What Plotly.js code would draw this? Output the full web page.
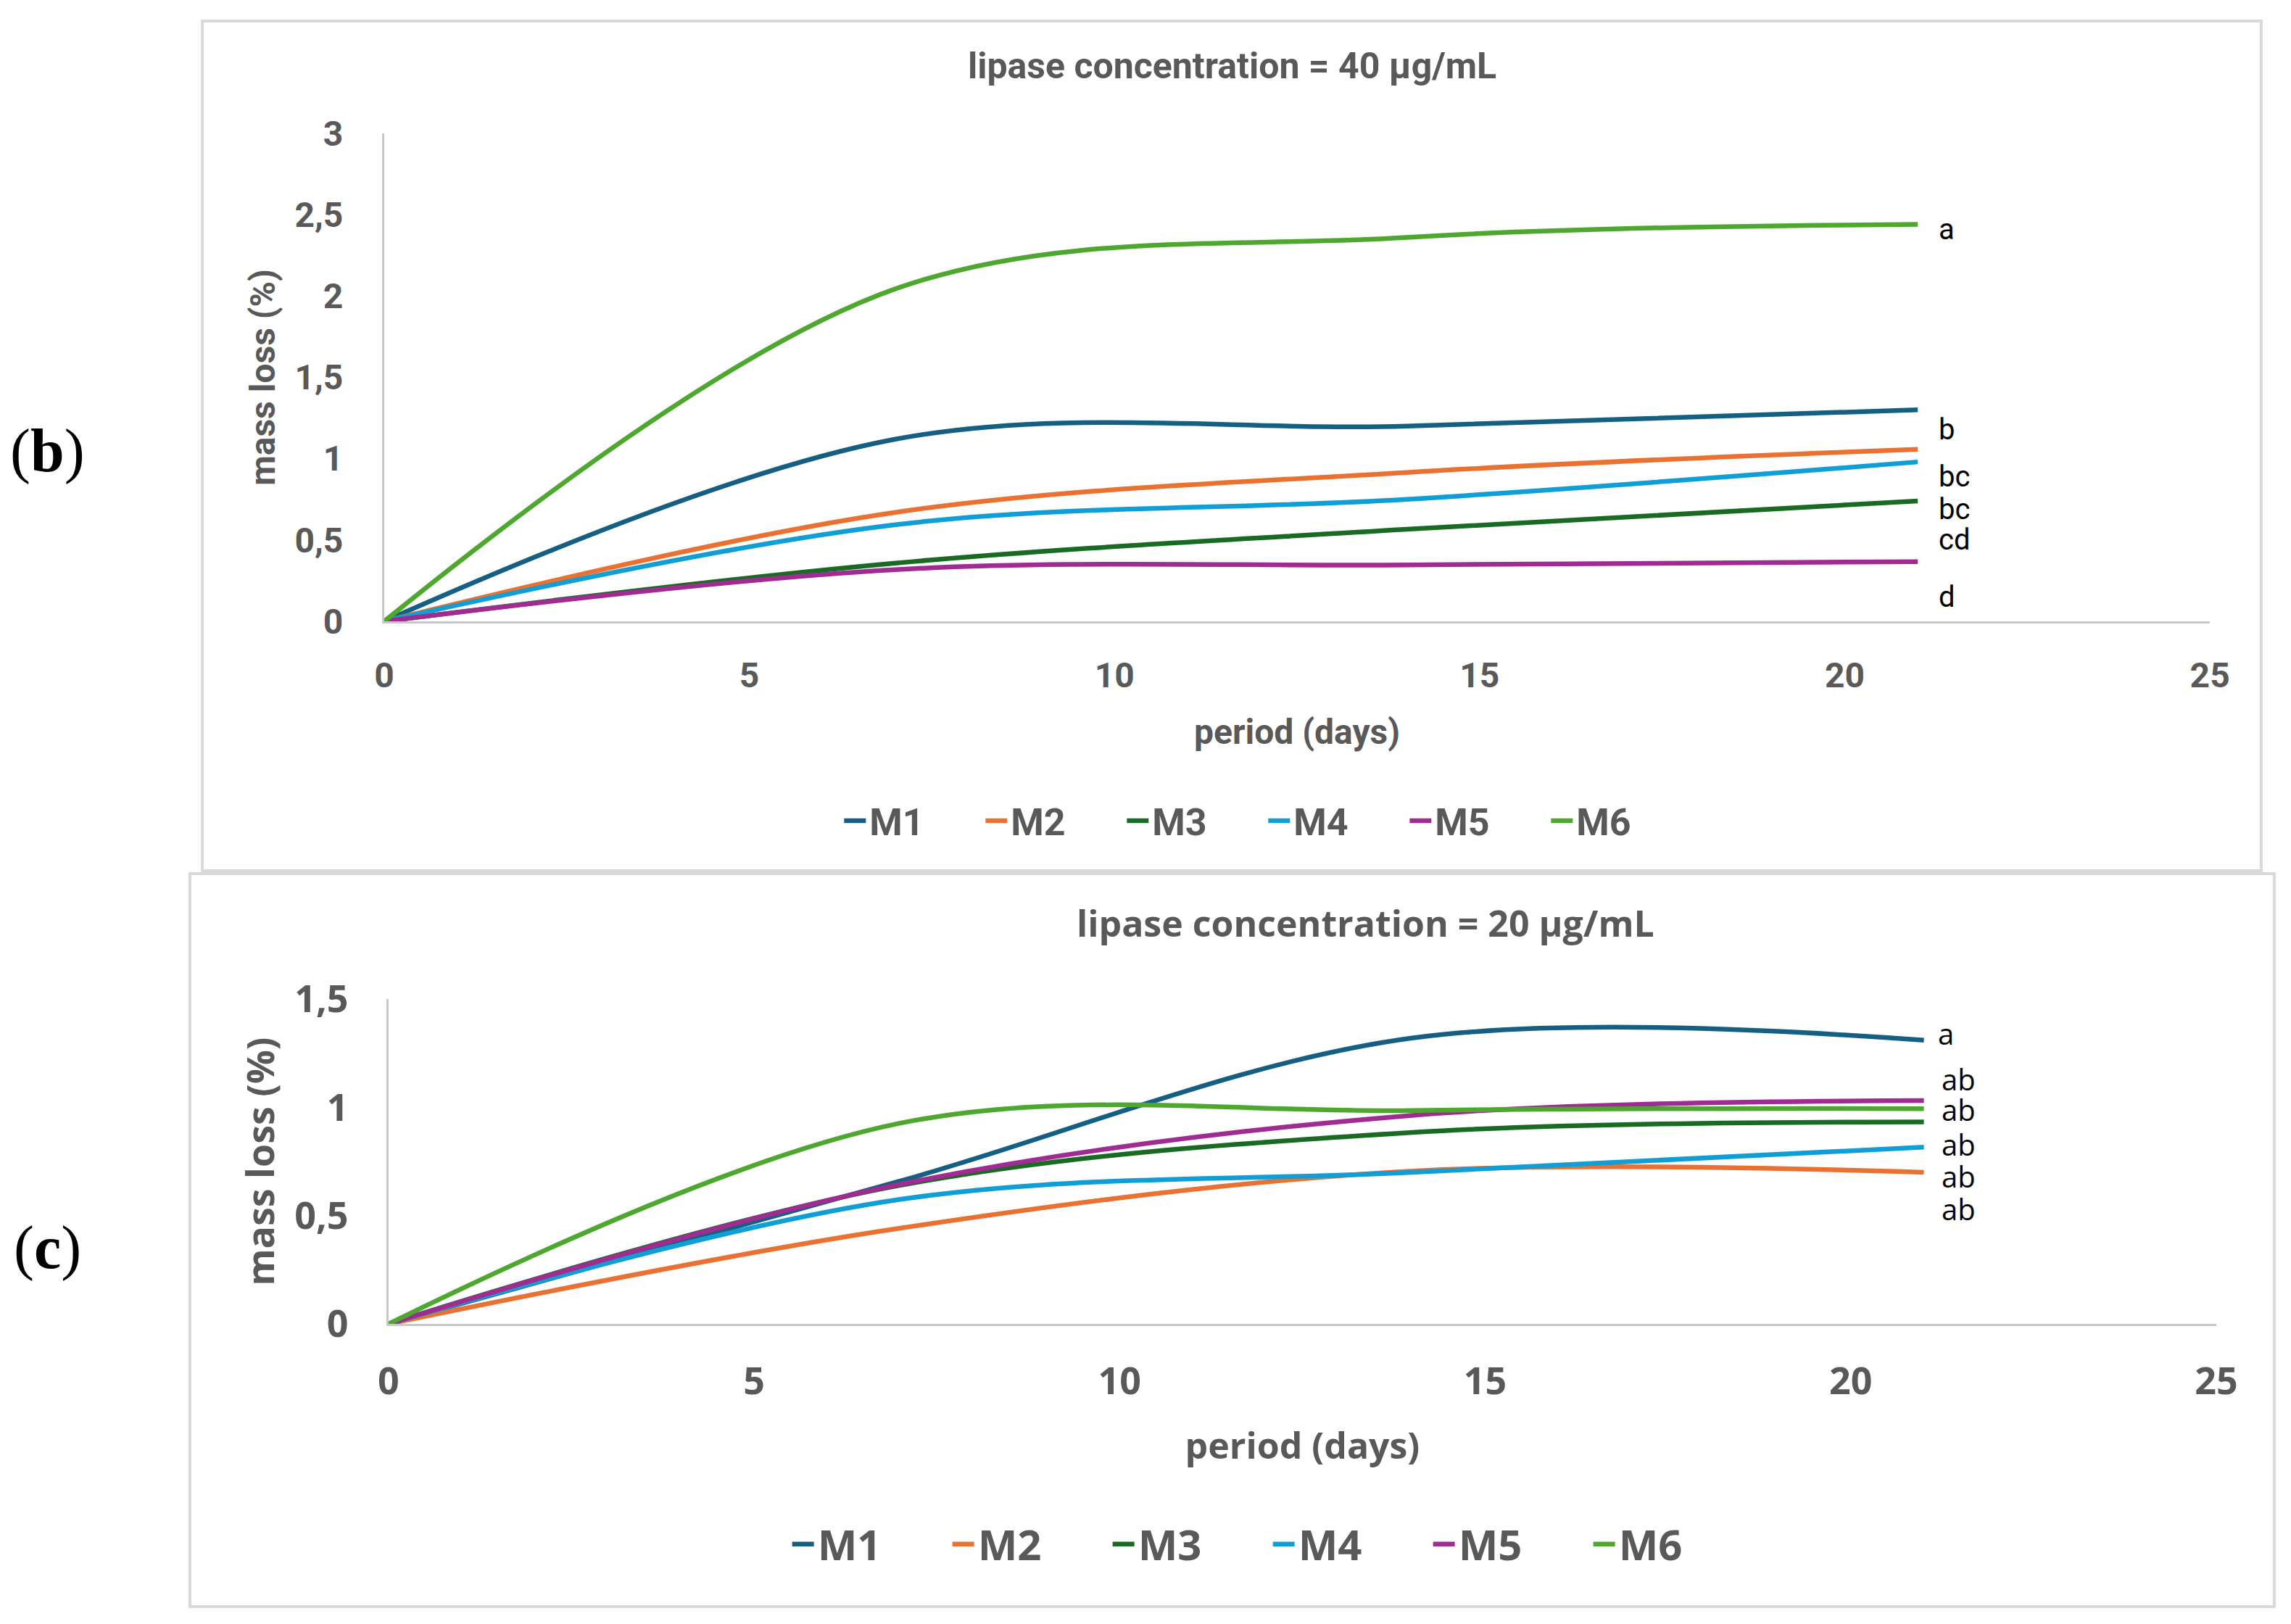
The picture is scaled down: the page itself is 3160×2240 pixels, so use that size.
<!DOCTYPE html>
<html>
<head>
<meta charset="utf-8">
<script src="https://cdn.plot.ly/plotly-3.0.1.min.js"></script>
<style>
html, body { margin: 0; padding: 0; background: #fff; }
#chart { width: 3160px; height: 2240px; }
</style>
</head>
<body>
<div id="chart"></div>
<script>
// sampling days
const days = [0, 7, 14, 21];
const seriesNames = ['M1', 'M2', 'M3', 'M4', 'M5', 'M6'];
const seriesColors = ['#156082', '#E97132', '#196B24', '#0F9ED5', '#A02B93', '#4EA72E'];

// mass loss (%) at lipase 40 ug/mL
const m1_40 = [0, 1.12, 1.20, 1.30];
const m2_40 = [0, 0.67, 0.915, 1.057];
const m3_40 = [0, 0.358, 0.566, 0.74];
const m4_40 = [0, 0.594, 0.75, 0.98];
const m5_40 = [0, 0.318, 0.347, 0.367];
const m6_40 = [0, 2.044, 2.36, 2.44];

// mass loss (%) at lipase 20 ug/mL
const m1_20 = [0, 0.66, 1.32, 1.31];
const m2_20 = [0, 0.442, 0.706, 0.70];
const m3_20 = [0, 0.64, 0.884, 0.933];
const m4_20 = [0, 0.575, 0.70, 0.816];
const m5_20 = [0, 0.645, 0.963, 1.031];
const m6_20 = [0, 0.927, 0.985, 0.994];

// significance letters
const letters40 = ['a', 'b', 'bc', 'bc', 'cd', 'd'];
const letterY40 = [2.41, 1.18, 0.89, 0.69, 0.50, 0.15];
const letters20 = ['a', 'ab', 'ab', 'ab', 'ab', 'ab'];
const letterY20 = [1.34, 1.13, 0.99, 0.83, 0.68, 0.53];

// ticks
const xTicks = [0, 5, 10, 15, 20, 25];
const yTicks40 = [0, 0.5, 1, 1.5, 2, 2.5, 3];
const yTickText40 = ['0', '0,5', '1', '1,5', '2', '2,5', '3'];
const yTicks20 = [0, 0.5, 1, 1.5];
const yTickText20 = ['0', '0,5', '1', '1,5'];

const data40 = [m1_40, m2_40, m3_40, m4_40, m5_40, m6_40];
const data20 = [m1_20, m2_20, m3_20, m4_20, m5_20, m6_20];

const narrow = 'Roboto, "Liberation Sans", sans-serif';
const wide = '"Open Sans", "Noto Sans", sans-serif';
const serif = '"Liberation Serif", "DejaVu Serif", serif';
const grey = '#595959';
const axisGrey = '#c8c8c8';

var traces = [];
data40.forEach(function (ys, i) {
    traces.push({
        x: days, y: ys, name: seriesNames[i],
        xaxis: 'x', yaxis: 'y', legend: 'legend',
        mode: 'lines',
        line: { color: seriesColors[i], width: 6.5, shape: 'spline', smoothing: 1 }
    });
});
data20.forEach(function (ys, i) {
    traces.push({
        x: days, y: ys, name: seriesNames[i],
        xaxis: 'x2', yaxis: 'y2', legend: 'legend2',
        mode: 'lines',
        line: { color: seriesColors[i], width: 6.5, shape: 'spline', smoothing: 1 }
    });
});

var annotations = [
    { text: 'lipase concentration = 40 μg/mL', xref: 'paper', yref: 'paper', x: 0.5377, y: 0.9594,
      xanchor: 'center', yanchor: 'middle', showarrow: false,
      font: { family: narrow, size: 50, color: grey, weight: 'bold' } },
    { text: 'lipase concentration = 20 μg/mL', xref: 'paper', yref: 'paper', x: 0.5962, y: 0.4317,
      xanchor: 'center', yanchor: 'middle', showarrow: false,
      font: { family: wide, size: 50, color: grey, weight: 'bold' } },
    { text: '(<b>b</b>)', xref: 'paper', yref: 'paper', x: 0.0206, y: 0.7225,
      xanchor: 'center', yanchor: 'middle', showarrow: false,
      font: { family: serif, size: 84, color: '#000' } },
    { text: '(<b>c</b>)', xref: 'paper', yref: 'paper', x: 0.0206, y: 0.2315,
      xanchor: 'center', yanchor: 'middle', showarrow: false,
      font: { family: serif, size: 84, color: '#000' } }
];
letters40.forEach(function (t, i) {
    annotations.push({ text: t, xref: 'x', yref: 'y', x: 21.27, y: letterY40[i],
        xanchor: 'left', yanchor: 'middle', showarrow: false,
        font: { family: narrow, size: 40, color: '#000' } });
});
letters20.forEach(function (t, i) {
    annotations.push({ text: t, xref: 'x2', yref: 'y2', x: i === 0 ? 21.17 : 21.22, y: letterY20[i],
        xanchor: 'left', yanchor: 'middle', showarrow: false,
        font: { family: wide, size: 40, color: '#000' } });
});

function axis(domain, anchor, range, tickvals, ticktext, family, size, titleText, titleSize, standoff, labelStandoff) {
    return {
        domain: domain, anchor: anchor, range: range,
        tickmode: 'array', tickvals: tickvals, ticktext: ticktext,
        showgrid: false, zeroline: false, showline: true, linecolor: axisGrey, linewidth: 3,
        ticks: '', ticklabelstandoff: labelStandoff,
        tickfont: { family: family, size: size, color: grey, weight: 'bold' },
        title: { text: titleText, standoff: standoff, font: { family: family, size: titleSize, color: grey, weight: 'bold' } },
        fixedrange: true
    };
}

const layout = {
    width: 3160, height: 2240,
    margin: { l: 0, r: 0, t: 0, b: 0 },
    paper_bgcolor: '#fff', plot_bgcolor: '#fff',
    showlegend: true,
    xaxis: axis([0.1677, 0.9646], 'y', [0, 25], xTicks, xTicks.map(String), narrow, 48, 'period (days)', 48, 34, 30),
    yaxis: axis([0.6174, 0.9179], 'x', [0, 3], yTicks40, yTickText40, narrow, 48, 'mass loss (%)', 48, 12, 44),
    xaxis2: axis([0.1696, 0.9674], 'y2', [0, 25], xTicks, xTicks.map(String), wide, 52, 'period (days)', 50, 40, 32),
    yaxis2: axis([0.1848, 0.3848], 'x2', [0, 1.5], yTicks20, yTickText20, wide, 52, 'mass loss (%)', 52, 12, 42),
    legend: {
        orientation: 'h', x: 0.552, y: 0.4946, xanchor: 'center', yanchor: 'middle',
        font: { family: narrow, size: 52, color: grey, weight: 'bold' },
        entrywidth: 150, entrywidthmode: 'pixels', bgcolor: 'rgba(0,0,0,0)'
    },
    legend2: {
        orientation: 'h', x: 0.554, y: 0.0491, xanchor: 'center', yanchor: 'middle',
        font: { family: wide, size: 58, color: grey, weight: 'bold' },
        entrywidth: 176, entrywidthmode: 'pixels', bgcolor: 'rgba(0,0,0,0)'
    },
    shapes: [
        { type: 'rect', xref: 'paper', yref: 'paper', x0: 0.0883, x1: 0.9870, y0: 0.4638, y1: 0.9871,
          line: { color: '#d9d9d9', width: 4 } },
        { type: 'rect', xref: 'paper', yref: 'paper', x0: 0.0829, x1: 0.9927, y0: 0.0107, y1: 0.4621,
          line: { color: '#d9d9d9', width: 4 } }
    ],
    annotations: annotations
};

Plotly.newPlot('chart', traces, layout, { displayModeBar: false, staticPlot: true });
</script>
</body>
</html>
